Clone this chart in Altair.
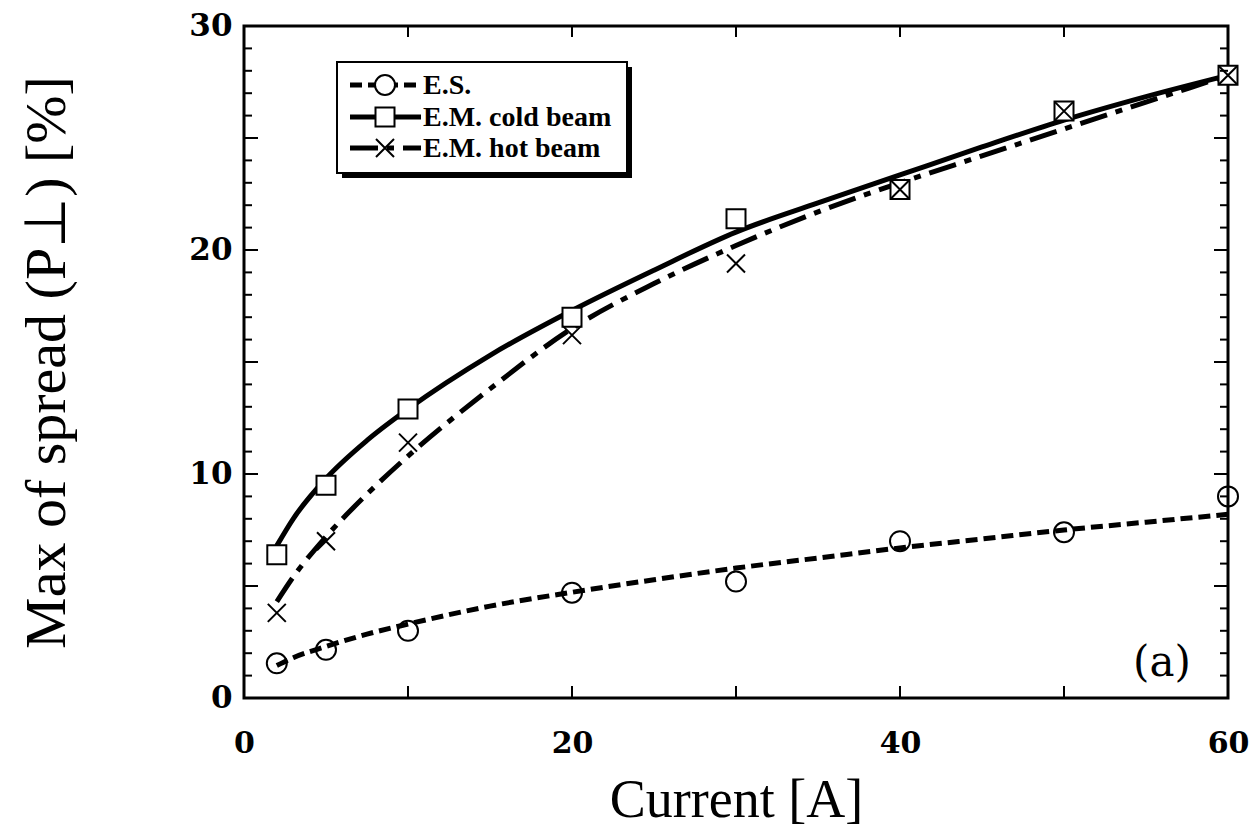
import altair as alt
import pandas as pd

# ---- data ----
current = [2, 5, 10, 20, 30, 40, 50, 60]
es_pts = [1.55, 2.15, 3.0, 4.7, 5.2, 7.0, 7.4, 9.0]
cold_pts = [6.4, 9.5, 12.9, 17.0, 21.4, 22.7, 26.2, 27.8]
hot_pts = [3.8, 7.0, 11.4, 16.2, 19.4, 22.7, 26.2, 27.8]

# fitted curves
fit_x = [2, 3, 5, 7.5, 10, 15, 20, 25, 30, 35, 40, 45, 50, 55, 60]
es_fit = [1.45, 1.8, 2.3, 2.85, 3.3, 4.1, 4.72, 5.28, 5.8, 6.25, 6.7, 7.1, 7.5, 7.85, 8.2]
cold_fit = [6.8, 8.0, 9.8, 11.5, 12.9, 15.3, 17.3, 19.1, 20.8, 22.1, 23.35, 24.6, 25.8, 26.85, 27.8]
hot_fit = [4.3, 5.4, 7.2, 9.1, 10.8, 13.8, 16.5, 18.5, 20.2, 21.7, 23.0, 24.2, 25.4, 26.6, 27.8]

x_tick_vals = [10, 20, 30, 40, 50]
y_major = [5, 10, 15, 20, 25]
y_minor = [v for v in range(1, 30) if v % 5 != 0]

legend_labels = ["E.S.", "E.M. cold beam", "E.M. hot beam"]

W, H = 984, 672
SERIF = "Liberation Serif"
BOLD_NUM = "DejaVu Serif"

pts = pd.DataFrame({"x": current, "es": es_pts, "cold": cold_pts, "hot": hot_pts})
fit = pd.DataFrame({"x": fit_x, "es": es_fit, "cold": cold_fit, "hot": hot_fit})

xs = alt.Scale(domain=[0, 60], nice=False, zero=False)
ys = alt.Scale(domain=[0, 30], nice=False, zero=False)

x_axis = alt.Axis(values=[0, 20, 40, 60], title="Current [A]", grid=False, ticks=False,
                  domain=False, labelFont=BOLD_NUM, labelFontWeight="bold", labelFontSize=30,
                  labelColor="black", labelPadding=30, titleFont=SERIF, titleFontSize=54,
                  titleFontWeight="normal", titleColor="black", titlePadding=15,
                  labelFlush=False)
y_axis = alt.Axis(values=[0, 10, 20, 30], title="Max of spread (P⊥) [%]", grid=False,
                  ticks=False, domain=False, labelFont=BOLD_NUM, labelFontWeight="bold",
                  labelFontSize=31, labelColor="black", labelPadding=12, titleFont=SERIF,
                  titleFontSize=58, titleFontWeight="normal", titleColor="black",
                  titlePadding=112, labelFlush=False)

base_x = alt.X("x:Q", scale=xs, axis=x_axis)

lw = 5
es_line = alt.Chart(fit).mark_line(color="black", strokeWidth=lw, strokeDash=[12, 6],
                                   interpolate="monotone").encode(
    x=base_x, y=alt.Y("es:Q", scale=ys, axis=y_axis))
cold_line = alt.Chart(fit).mark_line(color="black", strokeWidth=lw,
                                     interpolate="monotone").encode(
    x=alt.X("x:Q", scale=xs), y=alt.Y("cold:Q", scale=ys))
hot_line = alt.Chart(fit).mark_line(color="black", strokeWidth=lw, strokeDash=[28, 9, 7, 9],
                                    interpolate="monotone").encode(
    x=alt.X("x:Q", scale=xs), y=alt.Y("hot:Q", scale=ys))

XPATH = "M-1,-1L1,1M1,-1L-1,1"

es_mark = alt.Chart(pts).mark_point(shape="circle", filled=False, color="black",
                                    strokeWidth=2, size=400, opacity=1).encode(
    x=alt.X("x:Q", scale=xs), y=alt.Y("es:Q", scale=ys))
cold_mark = alt.Chart(pts).mark_point(shape="square", filled=True, fill="white",
                                      stroke="black", strokeWidth=2, size=361,
                                      opacity=1).encode(
    x=alt.X("x:Q", scale=xs), y=alt.Y("cold:Q", scale=ys))
hot_mark = alt.Chart(pts).mark_point(shape=XPATH, filled=False, color="black",
                                     strokeWidth=2, size=324, opacity=1).encode(
    x=alt.X("x:Q", scale=xs), y=alt.Y("hot:Q", scale=ys))

# inward ticks
xt = pd.DataFrame({"v": x_tick_vals})
ymaj = pd.DataFrame({"v": y_major})
ymin = pd.DataFrame({"v": y_minor})
tk = dict(color="black", strokeWidth=2)
ticks = [
    alt.Chart(xt).mark_rule(**tk).encode(x=alt.X("v:Q", scale=xs), y=alt.value(H), y2=alt.value(H - 12)),
    alt.Chart(xt).mark_rule(**tk).encode(x=alt.X("v:Q", scale=xs), y=alt.value(0), y2=alt.value(11)),
    alt.Chart(ymaj).mark_rule(**tk).encode(y=alt.Y("v:Q", scale=ys), x=alt.value(0), x2=alt.value(14)),
    alt.Chart(ymin).mark_rule(**tk).encode(y=alt.Y("v:Q", scale=ys), x=alt.value(0), x2=alt.value(8)),
    alt.Chart(ymaj).mark_rule(**tk).encode(y=alt.Y("v:Q", scale=ys), x=alt.value(W), x2=alt.value(W - 14)),
    alt.Chart(ymin).mark_rule(**tk).encode(y=alt.Y("v:Q", scale=ys), x=alt.value(W), x2=alt.value(W - 8)),
]

# legend box
one = pd.DataFrame({"a": [0]})
lx0, ly0, lx1, ly1 = 93, 36, 383, 147
shadow = alt.Chart(one).mark_rect(color="black").encode(
    x=alt.value(lx0 + 5), x2=alt.value(lx1 + 5), y=alt.value(ly0 + 5), y2=alt.value(ly1 + 5))
box = alt.Chart(one).mark_rect(fill="white", stroke="black", strokeWidth=2).encode(
    x=alt.value(lx0), x2=alt.value(lx1), y=alt.value(ly0), y2=alt.value(ly1))

rows_y = [59, 91, 122]
leg_layers = [shadow, box]
dashes = [[12, 6], None, [28, 9, 7, 9]]
for i, lab in enumerate(legend_labels):
    ry = rows_y[i]
    kw = dict(color="black", strokeWidth=lw)
    if dashes[i] is not None:
        kw["strokeDash"] = dashes[i]
    leg_layers.append(alt.Chart(one).mark_rule(**kw).encode(
        x=alt.value(106), x2=alt.value(177), y=alt.value(ry)))
    if i == 0:
        m = alt.Chart(one).mark_point(shape="circle", filled=True, fill="white", stroke="black",
                                      strokeWidth=2, size=400, opacity=1)
    elif i == 1:
        m = alt.Chart(one).mark_point(shape="square", filled=True, fill="white", stroke="black",
                                      strokeWidth=2, size=361, opacity=1)
    else:
        m = alt.Chart(one).mark_point(shape=XPATH, filled=False, color="black",
                                      strokeWidth=2, size=324, opacity=1)
    leg_layers.append(m.encode(x=alt.value(141), y=alt.value(ry)))
    leg_layers.append(alt.Chart(one).mark_text(text=lab, font=SERIF, fontWeight="bold",
                                               fontSize=28, align="left", baseline="middle",
                                               color="black").encode(
        x=alt.value(179), y=alt.value(ry + 1)))

panel = alt.Chart(one).mark_text(text="(a)", font=BOLD_NUM, fontSize=42, align="center",
                                 baseline="middle", color="black").encode(
    x=alt.value(918), y=alt.value(637))

chart = alt.layer(
    es_line, cold_line, hot_line, es_mark, cold_mark, hot_mark, *ticks, *leg_layers, panel
).properties(
    width=W, height=H,
    autosize=alt.AutoSizeParams(type="none"),
    padding={"left": 236, "top": 18, "right": 22, "bottom": 132},
    background="white",
).configure_view(stroke="black", strokeWidth=3)

chart.save("out.html", embed_options={"renderer": "svg", "actions": False})
